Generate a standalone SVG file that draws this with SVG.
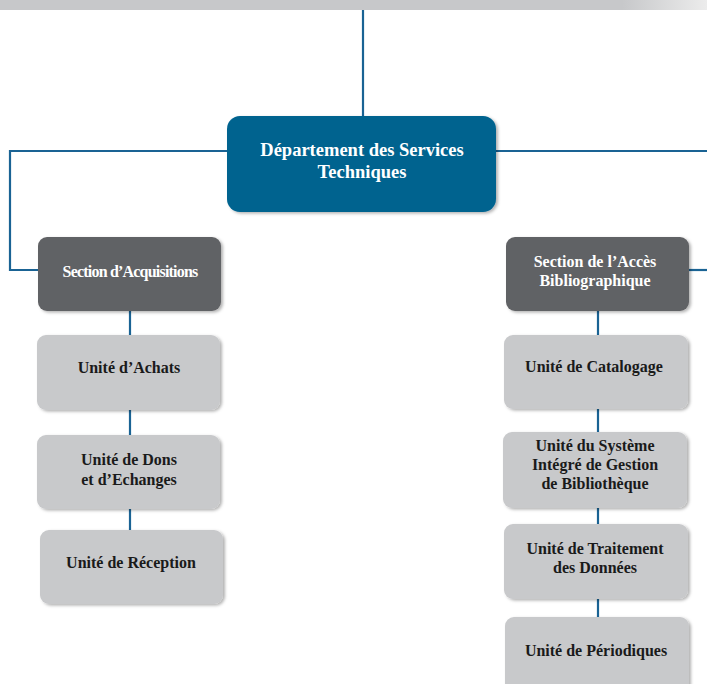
<svg xmlns="http://www.w3.org/2000/svg" width="707" height="684" viewBox="0 0 707 684">
<defs>
<linearGradient id="bar" x1="0" y1="0" x2="1" y2="0">
<stop offset="0" stop-color="#c7c8ca"/>
<stop offset="0.88" stop-color="#c7c8ca"/>
<stop offset="1" stop-color="#ececec"/>
</linearGradient>
<filter id="sh" x="-10%" y="-10%" width="125%" height="130%">
<feDropShadow dx="2" dy="1.5" stdDeviation="1.5" flood-color="#000" flood-opacity="0.3"/>
</filter>
</defs>
<style>
.lnk{stroke:#1a6394;stroke-width:2.2;fill:none}
.main{fill:#03638f;filter:url(#sh)}
.sec{fill:#616265;filter:url(#sh)}
.unit{fill:#c8c9cb;filter:url(#sh)}
text{font-weight:bold;text-anchor:middle}
.tw{fill:#ffffff}
.tb{fill:#1a1a1a;font-size:16px}
</style>
<rect x="0" y="0" width="707" height="10" fill="url(#bar)"/>
<g id="connectors">
<path class="lnk" d="M363 10 V118"/>
<path class="lnk" d="M227 151 H10 V270 H38"/>
<path class="lnk" d="M496 151 H707"/>
<path class="lnk" d="M689 270 H707"/>
<path class="lnk" d="M130 311 V335 M130 410 V435 M130 509 V530"/>
<path class="lnk" d="M598 311 V335 M598 409 V432 M598 508 V524 M598 599 V617"/>
</g>
<g font-family="Liberation Serif, Times New Roman, DejaVu Serif, serif">
<g id="n-dept">
<rect class="main" x="227" y="116" width="269" height="96" rx="13"/>
<text class="tw" x="362" y="156" font-size="18.5">Département des Services</text>
<text class="tw" x="362" y="178" font-size="18.5">Techniques</text>
</g>
<g id="n-acq">
<rect class="sec" x="38" y="237" width="183" height="74" rx="9"/>
<text class="tw" x="130" y="277" font-size="16" letter-spacing="-0.8">Section d’Acquisitions</text>
</g>
<g id="n-achats">
<rect class="unit" x="37" y="335" width="183" height="75" rx="9"/>
<text class="tb" x="129" y="373">Unité d’Achats</text>
</g>
<g id="n-dons">
<rect class="unit" x="37" y="435" width="183" height="74" rx="9"/>
<text class="tb" x="129" y="465">Unité de Dons</text>
<text class="tb" x="129" y="485">et d’Echanges</text>
</g>
<g id="n-reception">
<rect class="unit" x="40" y="530" width="183" height="74" rx="9"/>
<text class="tb" x="131" y="568">Unité de Réception</text>
</g>
<g id="n-acces">
<rect class="sec" x="506" y="237" width="183" height="74" rx="9"/>
<text class="tw" x="595" y="267" font-size="16">Section de l’Accès</text>
<text class="tw" x="595" y="286" font-size="16">Bibliographique</text>
</g>
<g id="n-catalogage">
<rect class="unit" x="504" y="335" width="184" height="74" rx="9"/>
<text class="tb" x="594" y="372">Unité de Catalogage</text>
</g>
<g id="n-sigb">
<rect class="unit" x="503" y="432" width="184" height="76" rx="9"/>
<text class="tb" x="595" y="451">Unité du Système</text>
<text class="tb" x="595" y="470">Intégré de Gestion</text>
<text class="tb" x="595" y="489">de Bibliothèque</text>
</g>
<g id="n-traitement">
<rect class="unit" x="504" y="524" width="184" height="75" rx="9"/>
<text class="tb" x="595" y="554">Unité de Traitement</text>
<text class="tb" x="595" y="573">des Données</text>
</g>
<g id="n-periodiques">
<rect class="unit" x="505" y="617" width="184" height="80" rx="9"/>
<text class="tb" x="596" y="656">Unité de Périodiques</text>
</g>
</g>
</svg>
